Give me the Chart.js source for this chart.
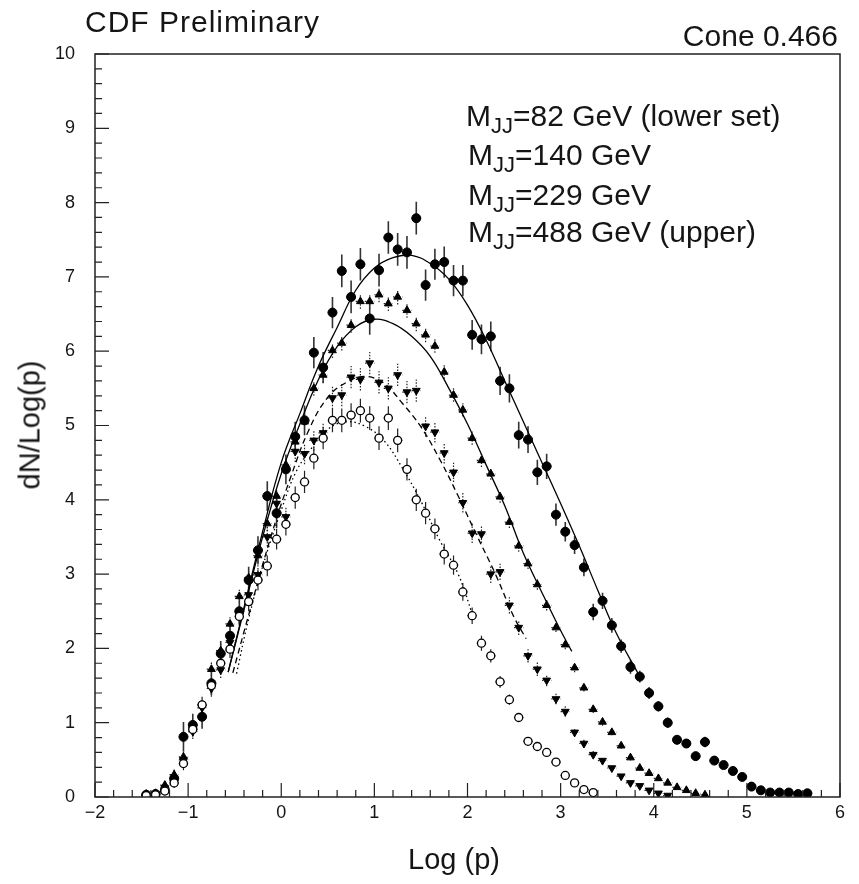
<!DOCTYPE html>
<html>
<head>
<meta charset="utf-8">
<title>CDF Preliminary - dN/Log(p)</title>
<script src="https://cdn.jsdelivr.net/npm/chart.js@4.4.1/dist/chart.umd.min.js"></script>
<style>
  body { margin: 0; background: #fff; }
  #wrap { position: relative; width: 859px; height: 884px; font-family: "Liberation Sans", Arial, sans-serif; color: #151515; }
  canvas { position: absolute; left: 0; top: 0; }
  .lbl { position: absolute; font-size: 30px; line-height: 30px; white-space: nowrap; }
  .sub { font-size: 22px; position: relative; top: 7px; }
  .axt { position: absolute; font-size: 29px; line-height: 29px; white-space: nowrap; transform: translate(-50%, -50%); }
</style>
</head>
<body>
<div id="wrap">
  <canvas id="chart" width="859" height="884"></canvas>
  <div class="lbl" style="left:85px; top:7px; letter-spacing:1px">CDF Preliminary</div>
  <div class="lbl" style="right:21px; top:21px">Cone 0.466</div>
  <div class="axt" style="left:454px; top:859px">Log (p)</div>
  <div class="axt" style="left:30px; top:425px; transform: translate(-50%, -50%) rotate(-90deg)">dN/Log(p)</div>
  <div id="legend"></div>
</div>
<script>
// bin centres in Log(p)
const logP = [-1.45, -1.35, -1.25, -1.15, -1.05, -0.95, -0.85, -0.75, -0.65, -0.55,
  -0.45, -0.35, -0.25, -0.15, -0.05, 0.05, 0.15, 0.25, 0.35, 0.45,
  0.55, 0.65, 0.75, 0.85, 0.95, 1.05, 1.15, 1.25, 1.35, 1.45,
  1.55, 1.65, 1.75, 1.85, 1.95, 2.05, 2.15, 2.25, 2.35, 2.45,
  2.55, 2.65, 2.75, 2.85, 2.95, 3.05, 3.15, 3.25, 3.35, 3.45,
  3.55, 3.65, 3.75, 3.85, 3.95, 4.05, 4.15, 4.25, 4.35, 4.45,
  4.55, 4.65, 4.75, 4.85, 4.95, 5.05, 5.15, 5.25, 5.35, 5.45,
  5.55, 5.65];

// MJJ = 488 GeV (filled circles)
const m488 = [0.03, 0.04, 0.09, 0.25, 0.81, 0.97, 1.08, 1.53, 1.93, 2.17,
  2.50, 2.92, 3.32, 4.05, 3.82, 4.41, 4.85, 5.07, 5.98, 5.78,
  6.52, 7.08, 6.73, 7.17, 6.44, 7.09, 7.53, 7.37, 7.33, 7.79,
  6.89, 7.17, 7.20, 6.95, 6.95, 6.22, 6.16, 6.20, 5.60, 5.50,
  4.87, 4.81, 4.37, 4.45, 3.80, 3.57, 3.39, 3.09, 2.49, 2.64,
  2.31, 2.03, 1.75, 1.62, 1.40, 1.22, 1.00, 0.77, 0.72, 0.55,
  0.74, 0.49, 0.43, 0.35, 0.27, 0.14, 0.09, 0.06, 0.06, 0.06,
  0.04, 0.05];
const e488 = [0.02, 0.03, 0.06, 0.10, 0.20, 0.15, 0.16, 0.16, 0.17, 0.17,
  0.18, 0.18, 0.19, 0.20, 0.20, 0.20, 0.20, 0.20, 0.21, 0.21,
  0.21, 0.22, 0.22, 0.22, 0.22, 0.22, 0.22, 0.22, 0.22, 0.22,
  0.21, 0.21, 0.21, 0.21, 0.21, 0.20, 0.20, 0.20, 0.19, 0.19,
  0.18, 0.18, 0.17, 0.17, 0.15, 0.13, 0.12, 0.12, 0.11, 0.11,
  0.10, 0.09, 0.09, 0.08, 0.08, 0.07, 0.07, 0.06, 0.06, 0.05,
  0.07, 0.05, 0.04, 0.04, 0.04, 0.03, 0.03, 0.02, 0.02, 0.02,
  0.02, 0.02];

// MJJ = 229 GeV (up triangles)
const m229 = [0.04, 0.05, 0.16, 0.30, 0.54, 0.93, 1.24, 1.72, 1.97, 2.33,
  2.70, 2.95, 3.25, 3.68, 4.05, 4.47, 4.78, 5.05, 5.50, 5.68,
  6.01, 6.11, 6.35, 6.67, 6.67, 6.76, 6.64, 6.73, 6.55, 6.37,
  6.22, 6.07, 5.72, 5.41, 5.21, 4.83, 4.53, 4.35, 4.04, 3.70,
  3.38, 3.14, 2.86, 2.58, 2.28, 2.05, 1.74, 1.47, 1.18, 1.01,
  0.87, 0.69, 0.53, 0.39, 0.32, 0.25, 0.19, 0.13, 0.09, 0.05,
  0.03, null, null, null, null, null, null, null, null, null,
  null, null];
const e229 = [0.02, 0.03, 0.05, 0.07, 0.08, 0.08, 0.08, 0.09, 0.09, 0.09,
  0.09, 0.09, 0.09, 0.10, 0.10, 0.10, 0.10, 0.10, 0.10, 0.10,
  0.10, 0.10, 0.10, 0.10, 0.10, 0.10, 0.10, 0.10, 0.10, 0.10,
  0.10, 0.09, 0.09, 0.09, 0.09, 0.09, 0.09, 0.08, 0.08, 0.08,
  0.08, 0.07, 0.07, 0.07, 0.06, 0.06, 0.06, 0.05, 0.05, 0.05,
  0.04, 0.04, 0.04, 0.03, 0.03, 0.03, 0.03, 0.02, 0.02, 0.02,
  0.02, null, null, null, null, null, null, null, null, null,
  null, null];

// MJJ = 140 GeV (down triangles)
const m140 = [0.02, 0.04, 0.12, 0.22, 0.50, 0.88, 1.20, 1.46, 1.71, 2.08,
  2.48, 2.72, 2.99, 3.50, 3.95, 3.77, 4.65, 4.62, 4.80, 4.90,
  5.37, 5.41, 5.65, 5.62, 5.84, 5.58, 5.50, 5.68, 5.45, 5.47,
  4.99, 4.91, 4.63, 4.37, 3.96, 3.55, 3.54, 3.00, 3.03, 2.58,
  2.28, 1.90, 1.72, 1.57, 1.32, 1.15, 0.87, 0.72, 0.57, 0.49,
  0.39, 0.28, 0.19, 0.15, 0.09, 0.05, 0.02, null, null, null,
  null, null, null, null, null, null, null, null, null, null,
  null, null];
const e140 = [0.02, 0.03, 0.05, 0.07, 0.09, 0.10, 0.10, 0.11, 0.11, 0.12,
  0.12, 0.12, 0.13, 0.13, 0.13, 0.14, 0.14, 0.14, 0.14, 0.14,
  0.15, 0.15, 0.15, 0.15, 0.15, 0.15, 0.15, 0.15, 0.15, 0.15,
  0.14, 0.14, 0.14, 0.13, 0.13, 0.13, 0.12, 0.12, 0.11, 0.11,
  0.10, 0.09, 0.09, 0.08, 0.07, 0.07, 0.06, 0.05, 0.05, 0.04,
  0.04, 0.03, 0.03, 0.02, 0.02, 0.02, 0.01, null, null, null,
  null, null, null, null, null, null, null, null, null, null,
  null, null];

// MJJ = 82 GeV (open circles)
const m82 = [0.02, 0.03, 0.08, 0.19, 0.45, 0.91, 1.24, 1.50, 1.80, 1.99,
  2.43, 2.63, 2.92, 3.11, 3.47, 3.67, 4.03, 4.24, 4.56, 4.83,
  5.07, 5.07, 5.14, 5.20, 5.10, 4.83, 5.10, 4.80, 4.41, 4.00,
  3.82, 3.61, 3.27, 3.12, 2.76, 2.44, 2.07, 1.90, 1.55, 1.31,
  1.07, 0.75, 0.68, 0.60, 0.47, 0.29, 0.19, 0.10, 0.06, null,
  null, null, null, null, null, null, null, null, null, null,
  null, null, null, null, null, null, null, null, null, null,
  null, null];
const e82 = [0.02, 0.03, 0.05, 0.07, 0.09, 0.10, 0.11, 0.11, 0.12, 0.12,
  0.13, 0.13, 0.14, 0.14, 0.14, 0.15, 0.15, 0.15, 0.15, 0.15,
  0.16, 0.16, 0.16, 0.16, 0.16, 0.16, 0.16, 0.16, 0.15, 0.15,
  0.15, 0.14, 0.14, 0.13, 0.12, 0.11, 0.10, 0.09, 0.08, 0.07,
  0.06, 0.05, 0.04, 0.04, 0.03, 0.03, 0.02, 0.02, 0.02, null,
  null, null, null, null, null, null, null, null, null, null,
  null, null, null, null, null, null, null, null, null, null,
  null, null];

// fitted curves
const fit488X = [-0.57, -0.4, -0.2, 0.0, 0.2, 0.4, 0.6, 0.8, 1.0, 1.2, 1.4, 1.6, 1.8, 2.0, 2.2, 2.4, 2.6, 2.8, 3.0, 3.2, 3.4, 3.6, 3.85];
const fit488Y = [1.68, 2.55, 3.57, 4.50, 5.16, 5.80, 6.32, 6.82, 7.12, 7.26, 7.29, 7.18, 6.97, 6.62, 6.15, 5.60, 5.05, 4.50, 3.95, 3.38, 2.78, 2.20, 1.62];
const fit229X = [-0.57, -0.4, -0.2, 0.0, 0.2, 0.4, 0.6, 0.8, 1.0, 1.2, 1.4, 1.6, 1.8, 2.0, 2.2, 2.4, 2.6, 2.8, 3.0, 3.12];
const fit229Y = [1.68, 2.52, 3.50, 4.35, 5.02, 5.62, 6.06, 6.33, 6.43, 6.37, 6.20, 5.93, 5.50, 5.02, 4.47, 3.92, 3.28, 2.75, 2.24, 1.96];
const fit140X = [-0.52, -0.35, -0.1, 0.1, 0.3, 0.5, 0.7, 0.9, 1.1, 1.3, 1.5, 1.7, 1.9, 2.1, 2.3, 2.5, 2.63];
const fit140Y = [1.67, 2.45, 3.55, 4.30, 4.95, 5.38, 5.58, 5.66, 5.57, 5.30, 4.98, 4.55, 4.05, 3.52, 3.00, 2.42, 2.13];
const fit82X = [-0.48, -0.35, -0.2, 0.0, 0.16, 0.34, 0.5, 0.7, 0.9, 1.1, 1.3, 1.5, 1.7, 1.9, 2.06];
const fit82Y = [1.66, 2.40, 3.10, 3.86, 4.38, 4.72, 4.95, 5.05, 4.99, 4.80, 4.43, 3.98, 3.46, 3.00, 2.43];

const xTickLabels = ['\u22122', '\u22121', '0', '1', '2', '3', '4', '5', '6'];
const yTickLabels = ['0', '1', '2', '3', '4', '5', '6', '7', '8', '9', '10'];
const legendMass = ['82', '140', '229', '488'];
const legendNote = [' (lower set)', '', '', ' (upper)'];

const binHalf = 0.05;
const FONT = '"Liberation Sans", Arial, sans-serif';

// legend text
const legendPos = [[466, 101], [468, 140], [468, 180], [468, 217]];
document.getElementById('legend').innerHTML = legendMass.map((m, i) =>
  `<div class="lbl" style="left:${legendPos[i][0]}px; top:${legendPos[i][1]}px">M<span class="sub">JJ</span>=${m} GeV${legendNote[i]}</div>`
).join('');

function points(values) {
  return logP.map((x, i) => ({x: x, y: values[i]})).filter(p => p.y !== null);
}
function errs(values, errors) {
  return errors.filter((e, i) => values[i] !== null);
}
function curve(xs, ys) {
  return xs.map((x, i) => ({x: x, y: ys[i]}));
}

const errorBars = {
  id: 'errorBars',
  beforeDatasetsDraw(chart) {
    const {ctx, chartArea: a, scales: {x, y}} = chart;
    ctx.save();
    ctx.beginPath();
    ctx.rect(a.left, a.top, a.right - a.left, a.bottom - a.top);
    ctx.clip();
    chart.data.datasets.forEach(ds => {
      if (!ds.errors) return;
      ctx.strokeStyle = ds.errColor;
      ctx.lineWidth = ds.errWidth;
      ctx.setLineDash(ds.errDash);
      ctx.beginPath();
      ds.data.forEach((p, i) => {
        const px = x.getPixelForValue(p.x);
        const py = y.getPixelForValue(p.y);
        ctx.moveTo(px, y.getPixelForValue(p.y - ds.errors[i]));
        ctx.lineTo(px, y.getPixelForValue(p.y + ds.errors[i]));
        ctx.moveTo(x.getPixelForValue(p.x - binHalf), py);
        ctx.lineTo(x.getPixelForValue(p.x + binHalf), py);
      });
      ctx.stroke();
    });
    ctx.restore();
  }
};

// frame with inward major / minor ticks
const frameTicks = {
  id: 'frameTicks',
  afterDraw(chart) {
    const {ctx, chartArea: a, scales: {x, y}} = chart;
    ctx.save();
    ctx.strokeStyle = '#222';
    ctx.lineWidth = 1.5;
    ctx.strokeRect(a.left, a.top, a.right - a.left, a.bottom - a.top);
    ctx.lineWidth = 1.2;
    ctx.beginPath();
    x.ticks.forEach((t, i) => {
      const px = x.getPixelForValue(t.value);
      ctx.moveTo(px, a.bottom);
      ctx.lineTo(px, a.bottom - 14);
      if (i < x.ticks.length - 1) {
        for (let k = 1; k < 5; k++) {
          const m = x.getPixelForValue(t.value + k * 0.2);
          ctx.moveTo(m, a.bottom);
          ctx.lineTo(m, a.bottom - 7);
        }
      }
    });
    y.ticks.forEach((t, i) => {
      const py = y.getPixelForValue(t.value);
      ctx.moveTo(a.left, py);
      ctx.lineTo(a.left + 14, py);
      if (i < y.ticks.length - 1) {
        for (let k = 1; k < 5; k++) {
          const m = y.getPixelForValue(t.value + k * 0.2);
          ctx.moveTo(a.left, m);
          ctx.lineTo(a.left + 7, m);
        }
      }
    });
    ctx.stroke();
    ctx.restore();
  }
};

function fitSet(xs, ys, dash) {
  return {
    type: 'line',
    data: curve(xs, ys),
    borderColor: '#000',
    borderWidth: 1.3,
    borderDash: dash,
    pointRadius: 0,
    tension: 0.4,
    fill: false,
    order: 10
  };
}
function markSet(values, errors, style, extra) {
  return Object.assign({
    type: 'scatter',
    data: points(values),
    errors: errs(values, errors),
    pointStyle: style,
    pointRadius: 4.5,
    backgroundColor: '#000',
    borderColor: '#000',
    borderWidth: 1,
    errColor: '#222',
    errWidth: 1.2,
    errDash: [],
    order: 1
  }, extra);
}

new Chart(document.getElementById('chart'), {
  type: 'scatter',
  data: {
    datasets: [
      fitSet(fit488X, fit488Y, []),
      fitSet(fit229X, fit229Y, []),
      fitSet(fit140X, fit140Y, [6, 4]),
      fitSet(fit82X, fit82Y, [1.5, 3]),
      markSet(m82, e82, 'circle', {pointRadius: 4, backgroundColor: '#fff', borderWidth: 1.3}),
      markSet(m140, e140, 'triangle', {rotation: 180, errDash: [1.5, 1.5]}),
      markSet(m229, e229, 'triangle', {errDash: [1.5, 1.5]}),
      markSet(m488, e488, 'circle', {errWidth: 1.6, errColor: '#333'})
    ]
  },
  options: {
    responsive: false,
    animation: false,
    devicePixelRatio: 1,
    layout: {padding: {left: 0, top: 54, right: 19, bottom: 0}},
    plugins: {legend: {display: false}, tooltip: {enabled: false}},
    scales: {
      x: {
        type: 'linear', min: -2, max: 6,
        grid: {display: false, drawTicks: false},
        border: {display: false},
        ticks: {
          stepSize: 1, padding: 5, color: '#151515',
          font: {family: FONT, size: 18},
          callback: (v) => xTickLabels[Math.round(v) + 2]
        },
        afterFit: (s) => { s.height = 87; }
      },
      y: {
        type: 'linear', min: 0, max: 10,
        grid: {display: false, drawTicks: false},
        border: {display: false},
        ticks: {
          stepSize: 1, padding: 20, color: '#151515',
          font: {family: FONT, size: 18},
          callback: (v) => yTickLabels[Math.round(v)]
        },
        afterFit: (s) => { s.width = 95; }
      }
    }
  },
  plugins: [errorBars, frameTicks]
});
</script>
</body>
</html>
